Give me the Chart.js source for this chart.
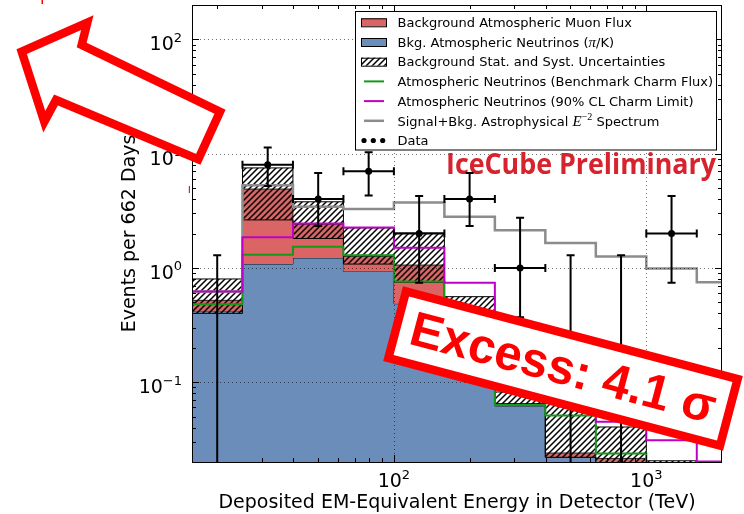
<!DOCTYPE html>
<html>
<head>
<meta charset="utf-8">
<script src="https://cdn.jsdelivr.net/npm/chart.js@4.4.0/dist/chart.umd.min.js"></script>
<style>
  html, body { margin: 0; padding: 0; background: #fff; }
  canvas { display: block; }
</style>
</head>
<body>
<canvas id="c" width="744" height="514"></canvas>
<script>
// Histogram bin edges in deposited energy (TeV)
const binEdges = [15.85, 25.12, 39.81, 63.10, 100, 158.5, 251.2, 398.1, 631.0, 1000, 1585, 1995];

// Expected events per bin (662 days)
const atmNuPiK       = [0.42, 1.08, 1.22, 0.93, 0.485, 0.20, 0.063, 0.022, 0.019, 0.013, 0.008];
const atmMuon        = [0.10, 3.82, 1.20, 0.33, 0.575, 0.10, 0.002, 0.002, 0.0025, 0.002, 0.001];
const uncLow         = [0.40, 2.63, 1.81, 1.08, 0.75, 0.20, 0.062, 0.022, 0.019, 0.012, 0.008];
const uncHigh        = [0.80, 7.5, 3.79, 2.24, 2.02, 0.56, 0.082, 0.075, 0.0405, 0.0205, 0.012];
const charmBenchmark = [0.48, 1.30, 1.53, 1.29, 0.76, 0.25, 0.063, 0.051, 0.0237, 0.012, 0.008];
const charmLimit90   = [0.62, 1.85, 2.45, 2.26, 1.50, 0.74, 0.12, 0.07, 0.045, 0.031, 0.0202];
const signalPlusBkg  = [0.62, 5.3, 3.43, 3.27, 3.74, 2.8, 2.14, 1.65, 1.26, 0.99, 0.75];

// Observed events with 68% intervals
const dataCenters = [19.95, 31.62, 50.12, 79.43, 125.9, 199.5, 316.2, 501.2, 794.3, 1259];
const dataEvents  = [0, 8, 4, 7, 2, 4, 1, 0, 0, 2];
const dataErrLow  = [0, 5.2, 2.33, 4.3, 0.74, 2.33, 0.37, 0, 0, 0.74];
const dataErrHigh = [1.29, 11.3, 6.78, 10.3, 4.25, 6.78, 2.75, 1.29, 1.29, 4.25];

// Axis ticks
const xMajorTicks = [100, 1000];
const xTickLabels = [['10', '2'], ['10', '3']];
const yMajorTicks = [0.1, 1, 10, 100];
const yTickLabels = [['10', '\u22121'], ['10', '0'], ['10', '1'], ['10', '2']];

const BLUE = 'rgb(106,141,185)';
const RED = 'rgb(219,101,101)';
const GREEN = '#14991a';
const MAGENTA = '#c000c6';
const GRAY = '#8c8c8c';
const FONT = '"DejaVu Sans"';

const canvas = document.getElementById('c');
const ctx0 = canvas.getContext('2d');

function makeHatch(period, lw) {
  const c = document.createElement('canvas');
  c.width = c.height = period;
  const g = c.getContext('2d');
  g.strokeStyle = '#000';
  g.lineWidth = lw;
  g.beginPath();
  g.moveTo(-1, period + 1); g.lineTo(period + 1, -1);
  g.moveTo(-1, 1); g.lineTo(1, -1);
  g.moveTo(period - 1, period + 1); g.lineTo(period + 1, period - 1);
  g.stroke();
  return ctx0.createPattern(c, 'repeat');
}
const hatch = makeHatch(6, 1.5);

// step outline: one point per left edge plus the closing right edge
function steps(vals) {
  const pts = vals.map((v, i) => ({ x: binEdges[i], y: v }));
  pts.push({ x: binEdges[vals.length], y: vals[vals.length - 1] });
  return pts;
}
const muonTop = atmNuPiK.map((v, i) => v + atmMuon[i]);

const stepBase = { stepped: true, pointRadius: 0, tension: 0 };

const overlay = {
  id: 'overlay',
  afterDatasetsDraw(chart) {
    const { ctx, chartArea: a, scales: { x, y } } = chart;
    // dotted grid at major ticks
    ctx.save();
    ctx.beginPath(); ctx.rect(a.left, a.top, a.right - a.left, a.bottom - a.top); ctx.clip();
    ctx.strokeStyle = 'rgba(0,0,0,0.55)';
    ctx.lineWidth = 1;
    ctx.setLineDash([1, 3]);
    xMajorTicks.forEach(v => {
      const px = Math.round(x.getPixelForValue(v)) + 0.5;
      ctx.beginPath(); ctx.moveTo(px, a.top); ctx.lineTo(px, a.bottom); ctx.stroke();
    });
    yMajorTicks.forEach(v => {
      const py = Math.round(y.getPixelForValue(v)) + 0.5;
      ctx.beginPath(); ctx.moveTo(a.left, py); ctx.lineTo(a.right, py); ctx.stroke();
    });
    ctx.restore();

    // preliminary label
    ctx.save();
    ctx.font = 'bold 28px "Open Sans"';
    const w = ctx.measureText('IceCube Preliminary').width;
    ctx.translate(446, 173.5);
    ctx.scale(270 / w, 1);
    ctx.fillStyle = '#d7232d';
    ctx.textBaseline = 'alphabetic';
    ctx.fillText('IceCube Preliminary', 0, 0);
    ctx.restore();

    // data error bars
    ctx.save();
    ctx.beginPath(); ctx.rect(a.left, a.top, a.right - a.left, a.bottom - a.top); ctx.clip();
    ctx.strokeStyle = '#000';
    ctx.lineWidth = 2;
    const cap = 4;
    dataCenters.forEach((c, i) => {
      const cx = x.getPixelForValue(c);
      const yHi = y.getPixelForValue(dataErrHigh[i]);
      ctx.beginPath();
      if (dataEvents[i] > 0) {
        const yv = y.getPixelForValue(dataEvents[i]);
        const yLo = y.getPixelForValue(dataErrLow[i]);
        const x0 = x.getPixelForValue(binEdges[i]);
        const x1 = x.getPixelForValue(binEdges[i + 1]);
        ctx.moveTo(x0, yv); ctx.lineTo(x1, yv);
        ctx.moveTo(x0, yv - cap); ctx.lineTo(x0, yv + cap);
        ctx.moveTo(x1, yv - cap); ctx.lineTo(x1, yv + cap);
        ctx.moveTo(cx, yLo); ctx.lineTo(cx, yHi);
        ctx.moveTo(cx - cap, yLo); ctx.lineTo(cx + cap, yLo);
      } else {
        ctx.moveTo(cx, a.bottom); ctx.lineTo(cx, yHi);
      }
      ctx.moveTo(cx - cap, yHi); ctx.lineTo(cx + cap, yHi);
      ctx.stroke();
    });
    ctx.restore();
  },
  afterDraw(chart) {
    const { ctx, chartArea: a, scales: { x, y } } = chart;
    ctx.save();
    // frame
    ctx.strokeStyle = '#000';
    ctx.lineWidth = 1;
    ctx.strokeRect(a.left + 0.5, a.top + 0.5, a.right - a.left - 1, a.bottom - a.top);

    // inward ticks on all four sides
    const major = 7, minor = 4;
    ctx.beginPath();
    for (let d = 1; d <= 3; d++) {
      for (let m = 1; m <= 9; m++) {
        const v = m * Math.pow(10, d);
        if (v < x.min || v > x.max) continue;
        const px = Math.round(x.getPixelForValue(v)) + 0.5;
        const L = m === 1 ? major : minor;
        ctx.moveTo(px, a.bottom); ctx.lineTo(px, a.bottom - L);
        ctx.moveTo(px, a.top); ctx.lineTo(px, a.top + L);
      }
    }
    for (let d = -2; d <= 2; d++) {
      for (let m = 1; m <= 9; m++) {
        const v = m * Math.pow(10, d);
        if (v < y.min || v > y.max) continue;
        const py = Math.round(y.getPixelForValue(v)) + 0.5;
        const L = m === 1 ? major : minor;
        ctx.moveTo(a.left, py); ctx.lineTo(a.left + L, py);
        ctx.moveTo(a.right, py); ctx.lineTo(a.right - L, py);
      }
    }
    ctx.stroke();

    // tick labels with superscript exponents
    ctx.fillStyle = '#000';
    ctx.textBaseline = 'alphabetic';
    ctx.textAlign = 'left';
    function sci(base, exp, px, baseline, align) {
      ctx.font = '19px ' + FONT;
      const wb = ctx.measureText(base).width;
      ctx.font = '13px ' + FONT;
      const we = ctx.measureText(exp).width;
      const start = align === 'right' ? px - wb - we : px - (wb + we) / 2;
      ctx.font = '19px ' + FONT;
      ctx.fillText(base, start, baseline);
      ctx.font = '13px ' + FONT;
      ctx.fillText(exp, start + wb, baseline - 8.5);
    }
    xMajorTicks.forEach((v, i) => sci(xTickLabels[i][0], xTickLabels[i][1], x.getPixelForValue(v), 487, 'center'));
    yMajorTicks.forEach((v, i) => sci(yTickLabels[i][0], yTickLabels[i][1], 182, y.getPixelForValue(v) + 11, 'right'));

    // axis titles
    ctx.font = '19px ' + FONT;
    ctx.textAlign = 'center';
    ctx.fillText('Deposited EM-Equivalent Energy in Detector (TeV)', (a.left + a.right) / 2, 508);
    ctx.save();
    ctx.translate(135, (a.top + a.bottom) / 2);
    ctx.rotate(-Math.PI / 2);
    ctx.fillText('Events per 662 Days', 0, 0);
    ctx.restore();

    // legend
    const lx = 355.5, ly = 11.5, lw = 361, lh = 138.5;
    ctx.fillStyle = '#fff';
    ctx.fillRect(lx, ly, lw, lh);
    ctx.strokeStyle = '#000';
    ctx.lineWidth = 1;
    ctx.strokeRect(lx, ly, lw, lh);
    const rowY = i => 22.3 + i * 19.7;
    const hx0 = 361, hx1 = 387, tx = 397.5;
    function patch(i, fill) {
      const yc = rowY(i);
      ctx.fillStyle = fill;
      ctx.fillRect(hx0, yc - 4, hx1 - hx0, 8);
      ctx.strokeStyle = '#000';
      ctx.lineWidth = 1;
      ctx.strokeRect(hx0 + 0.5, yc - 3.5, hx1 - hx0 - 1, 8);
    }
    function lineHandle(i, color, w) {
      const yc = rowY(i);
      ctx.strokeStyle = color;
      ctx.lineWidth = w;
      ctx.beginPath(); ctx.moveTo(364, yc); ctx.lineTo(384, yc); ctx.stroke();
    }
    patch(0, RED);
    patch(1, BLUE);
    ctx.fillStyle = '#fff'; ctx.fillRect(hx0, rowY(2) - 4, hx1 - hx0, 8);
    patch(2, hatch);
    lineHandle(3, GREEN, 2);
    lineHandle(4, MAGENTA, 2);
    lineHandle(5, GRAY, 2.5);
    ctx.fillStyle = '#000';
    [364, 373.3, 382.7].forEach(cx => { ctx.beginPath(); ctx.arc(cx, rowY(6), 2.6, 0, Math.PI * 2); ctx.fill(); });

    ctx.textAlign = 'left';
    ctx.fillStyle = '#000';
    const tf = '13px ' + FONT;
    function seg(parts, i) {
      let cx = tx;
      parts.forEach(([t, f, dy]) => {
        ctx.font = f;
        ctx.fillText(t, cx, rowY(i) + 4.7 + (dy || 0));
        cx += ctx.measureText(t).width;
      });
    }
    seg([['Background Atmospheric Muon Flux', tf]], 0);
    seg([['Bkg. Atmospheric Neutrinos (', tf], ['\u03c0', 'italic 15px "Liberation Serif"'], ['/K)', tf]], 1);
    seg([['Background Stat. and Syst. Uncertainties', tf]], 2);
    seg([['Atmospheric Neutrinos (Benchmark Charm Flux)', tf]], 3);
    seg([['Atmospheric Neutrinos (90% CL Charm Limit)', tf]], 4);
    seg([['Signal+Bkg. Astrophysical ', tf], ['E', 'italic 15px "Liberation Serif"'], ['\u22122', '10px "Liberation Serif"', -6], [' Spectrum', tf]], 5);
    seg([['Data', tf]], 6);

    // significance banner
    ctx.save();
    ctx.translate(563, 368.5);
    ctx.rotate(14.8 * Math.PI / 180);
    ctx.fillStyle = '#fff';
    ctx.fillRect(-171.5, -34.5, 343, 69);
    ctx.strokeStyle = '#ff0000';
    ctx.lineWidth = 8.5;
    ctx.lineJoin = 'miter';
    ctx.strokeRect(-171.5, -34.5, 343, 69);
    ctx.fillStyle = '#ff0000';
    ctx.font = 'bold 49px "Liberation Sans"';
    ctx.textAlign = 'center';
    ctx.textBaseline = 'middle';
    ctx.fillText('Excess: 4.1 \u03c3', 0, 2);
    ctx.restore();

    // pointer arrow
    ctx.beginPath();
    const arrow = [[21.7, 51.7], [87.3, 22.7], [81.7, 45], [220, 111.7], [198.3, 159.3], [56, 100], [44.3, 121.7]];
    arrow.forEach(([px, py], i) => i ? ctx.lineTo(px, py) : ctx.moveTo(px, py));
    ctx.closePath();
    ctx.fillStyle = '#fff';
    ctx.fill();
    ctx.strokeStyle = '#ff0000';
    ctx.lineWidth = 8.5;
    ctx.lineJoin = 'miter';
    ctx.miterLimit = 10;
    ctx.stroke();

    // small red marks
    ctx.fillStyle = '#ff0000';
    ctx.fillRect(41.5, 0, 1.5, 4);
    ctx.fillStyle = '#e02020';
    ctx.fillRect(188.8, 186, 1.2, 7);
    ctx.restore();
  }
};

new Chart(canvas, {
  type: 'line',
  data: {
    datasets: [
      { ...stepBase, data: steps(atmNuPiK), fill: 'start', backgroundColor: BLUE, borderColor: 'rgba(0,0,0,0.8)', borderWidth: 1, order: 10 },
      { ...stepBase, data: steps(muonTop), fill: '-1', backgroundColor: RED, borderColor: 'rgba(0,0,0,0.8)', borderWidth: 1, order: 9 },
      { ...stepBase, data: steps(uncLow), fill: false, borderColor: '#000', borderWidth: 1, order: 8 },
      { ...stepBase, data: steps(uncHigh), fill: '-1', backgroundColor: hatch, borderColor: '#000', borderWidth: 1, order: 7 },
      { ...stepBase, data: steps(signalPlusBkg), fill: false, borderColor: GRAY, borderWidth: 2.5, order: 6 },
      { ...stepBase, data: steps(charmBenchmark), fill: false, borderColor: GREEN, borderWidth: 2, order: 5 },
      { ...stepBase, data: steps(charmLimit90), fill: false, borderColor: MAGENTA, borderWidth: 2, order: 4 },
      {
        data: dataCenters.map((c, i) => ({ x: c, y: dataEvents[i] })).filter(p => p.y > 0),
        showLine: false, pointRadius: 3.5, pointBackgroundColor: '#000', pointBorderColor: '#000', pointBorderWidth: 0, order: 1
      }
    ]
  },
  options: {
    responsive: false,
    devicePixelRatio: 1,
    animation: false,
    events: [],
    layout: { padding: { left: 192, right: 22, top: 5, bottom: 52 } },
    plugins: { legend: { display: false }, tooltip: { enabled: false } },
    scales: {
      x: { type: 'logarithmic', min: 15.85, max: 1995, display: false },
      y: { type: 'logarithmic', min: 0.02, max: 200, display: false }
    }
  },
  plugins: [overlay]
});
</script>
</body>
</html>
